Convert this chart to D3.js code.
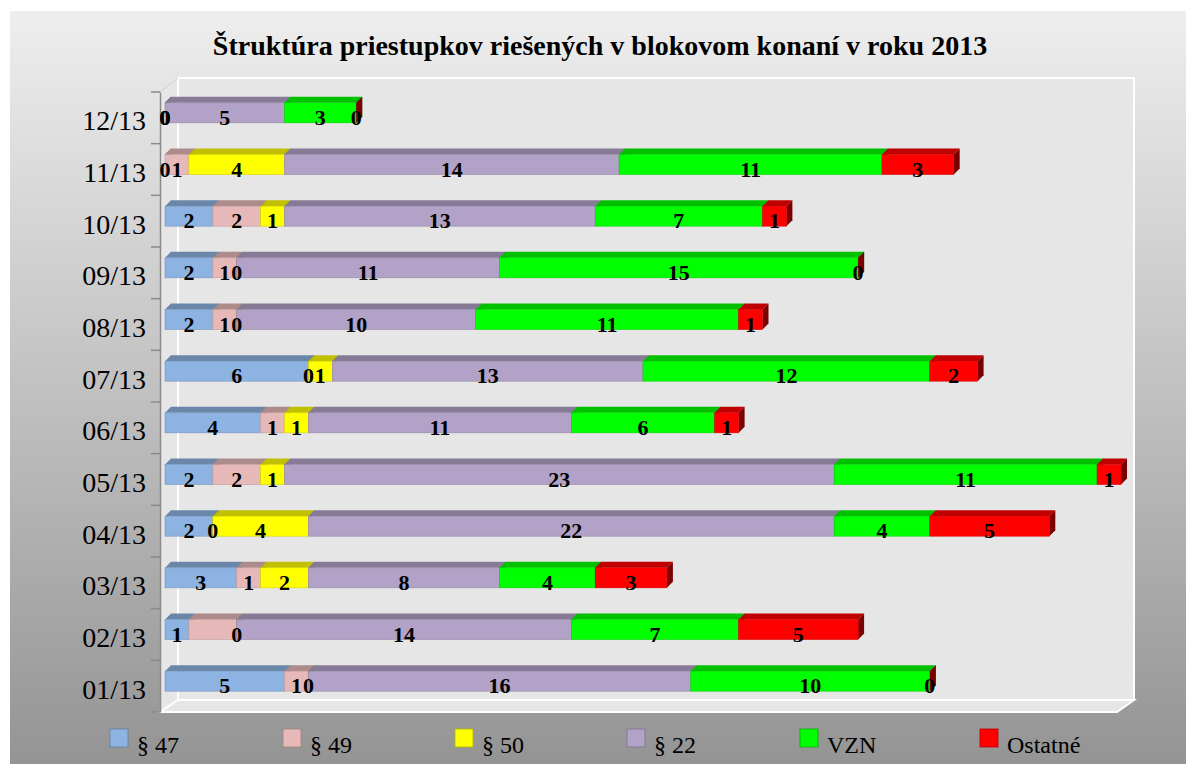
<!DOCTYPE html>
<html>
<head>
<meta charset="utf-8">
<script src="https://cdn.jsdelivr.net/npm/d3@7"></script>
<style>
  body { margin: 0; background: #fff; }
  svg { display: block; font-family: "Liberation Serif", "Times New Roman", serif; }
</style>
</head>
<body>
<svg class="chart"></svg>
<script>
// months, bottom to top as in the chart
const months = ["01/13", "02/13", "03/13", "04/13", "05/13", "06/13",
                "07/13", "08/13", "09/13", "10/13", "11/13", "12/13"];
const seriesNames = ["§ 47", "§ 49", "§ 50", "§ 22", "VZN", "Ostatné"];
const seriesColors = ["#8db3e2", "#e6b9b8", "#ffff00", "#b2a2c7", "#00ff00", "#ff0000"];

const par47  = [5, 1, 3, 2, 2, 4, 6, 2, 2, 2, 0, 0];
const par49  = [1, 2, 1, 0, 2, 1, 0, 1, 1, 2, 1, 0];
const par50  = [0, 0, 2, 4, 1, 1, 1, 0, 0, 1, 4, 0];
const par22  = [16, 14, 8, 22, 23, 11, 13, 10, 11, 13, 14, 5];
const vzn    = [10, 7, 4, 4, 11, 6, 12, 11, 15, 7, 11, 3];
const ostatne = [0, 5, 3, 5, 1, 1, 2, 1, 0, 1, 3, 0];

// label that is not shown in the original
const hiddenLabels = [["02/13", "§ 49"]];

const title = "Štruktúra priestupkov riešených v blokovom konaní v roku 2013";

const width = 1186;
const height = 764;
const depth = 6;            // bar 3d depth
const wall = { x0: 178, y0: 78, x1: 1134, y1: 700 };
const front = { x0: 160, y0: 92, x1: 1117, y1: 712 };

const svg = d3.select(".chart").attr("width", width).attr("height", height);
const defs = svg.append("defs");
const bg = defs.append("linearGradient").attr("id", "bg")
  .attr("x1", 0).attr("y1", 0).attr("x2", 0).attr("y2", 1);
bg.append("stop").attr("offset", "0%").attr("stop-color", "#eeeeee");
bg.append("stop").attr("offset", "100%").attr("stop-color", "#949494");

svg.append("rect")
  .attr("x", 10).attr("y", 11)
  .attr("width", width - 10).attr("height", height - 11)
  .attr("fill", "url(#bg)");

// title
svg.append("text")
  .attr("x", 600).attr("y", 55)
  .attr("text-anchor", "middle")
  .attr("font-size", 28).attr("font-weight", "bold")
  .text(title);

// walls
svg.append("polygon")
  .attr("points", [[front.x0, front.y0], [wall.x0, wall.y0], [wall.x0, wall.y1], [front.x0, front.y1]].join(" "))
  .attr("fill", "#e6e6e6");
svg.append("rect")
  .attr("x", wall.x0).attr("y", wall.y0)
  .attr("width", wall.x1 - wall.x0).attr("height", wall.y1 - wall.y0)
  .attr("fill", "#e6e6e6").attr("stroke", "#fff").attr("stroke-width", 2);
svg.append("polygon")
  .attr("points", [[front.x0, front.y1], [wall.x0, wall.y1], [wall.x1, wall.y1], [front.x1, front.y1]].join(" "))
  .attr("fill", "#e6e6e6").attr("stroke", "#fff").attr("stroke-width", 2);
svg.append("line")
  .attr("x1", front.x0).attr("y1", front.y0).attr("x2", wall.x0).attr("y2", wall.y0)
  .attr("stroke", "#d0d0d0");

// scales
const x = d3.scaleLinear().domain([0, 40]).range([165, 1121]);
const y = d3.scaleBand().domain(months.slice().reverse()).range([front.y0, front.y1]);

const yAxis = d3.axisLeft(y).tickSize(0).tickPadding(14);
const gy = svg.append("g")
  .attr("transform", `translate(${front.x0},0)`)
  .call(yAxis);
gy.select(".domain").attr("stroke", "#8a8a8a").attr("stroke-width", 1.5);
gy.selectAll(".tick text")
  .attr("font-size", 28).attr("font-family", "Liberation Serif, serif")
  .attr("fill", "#000").attr("dy", "0.45em");
// tick marks on category boundaries
gy.selectAll(".bound")
  .data(d3.range(months.length + 1))
  .enter().append("line")
  .attr("x1", -9).attr("x2", 0)
  .attr("y1", (i) => front.y0 + i * y.step())
  .attr("y2", (i) => front.y0 + i * y.step())
  .attr("stroke", "#8a8a8a").attr("stroke-width", 1.5);

// stacked data
const rows = months.map((m, i) => ({
  month: m,
  "§ 47": par47[i], "§ 49": par49[i], "§ 50": par50[i],
  "§ 22": par22[i], "VZN": vzn[i], "Ostatné": ostatne[i]
}));
const stacked = d3.stack().keys(seriesNames)(rows);

const barH = 20;
const faceTop = (m) => y(m) + y.bandwidth() / 2 - 15;

const bars = svg.append("g");
// draw row by row, segment by segment (left to right) so faces overlap like 3d
rows.forEach((row, ri) => {
  stacked.forEach((layer, si) => {
    const d = layer[ri];
    const color = seriesColors[si];
    const x0 = x(d[0]), x1 = x(d[1]);
    const t = faceTop(row.month);
    const g = bars.append("g");
    g.append("polygon")
      .attr("points", [[x0, t], [x0 + depth, t - depth], [x1 + depth, t - depth], [x1, t]].join(" "))
      .attr("fill", d3.color(color).darker(0.8));
    g.append("polygon")
      .attr("points", [[x1, t], [x1 + depth, t - depth], [x1 + depth, t + barH - depth], [x1, t + barH]].join(" "))
      .attr("fill", d3.color(color).darker(2));
    g.append("rect")
      .attr("x", x0).attr("y", t)
      .attr("width", x1 - x0).attr("height", barH)
      .attr("fill", color)
      .attr("stroke", d3.color(color).darker(0.5)).attr("stroke-width", 0.6);
  });
});

// value labels
const labels = svg.append("g")
  .attr("font-size", 22).attr("font-weight", "bold")
  .attr("text-anchor", "middle");
stacked.forEach((layer) => {
  layer.forEach((d, ri) => {
    const m = rows[ri].month;
    if (hiddenLabels.some((h) => h[0] === m && h[1] === layer.key)) return;
    labels.append("text")
      .attr("x", (x(d[0]) + x(d[1])) / 2)
      .attr("y", faceTop(m) + barH + 2)
      .text(d[1] - d[0]);
  });
});

// legend
const legendX = [110, 283, 455, 627, 800, 980];
const legend = svg.append("g");
seriesNames.forEach((name, i) => {
  const g = legend.append("g").attr("transform", `translate(${legendX[i]},729)`);
  g.append("rect")
    .attr("width", 18).attr("height", 18)
    .attr("fill", seriesColors[i])
    .attr("stroke", d3.color(seriesColors[i]).darker(1)).attr("stroke-width", 0.8);
  g.append("text")
    .attr("x", 27).attr("y", 24)
    .attr("font-size", 24)
    .text(name);
});
</script>
</body>
</html>
